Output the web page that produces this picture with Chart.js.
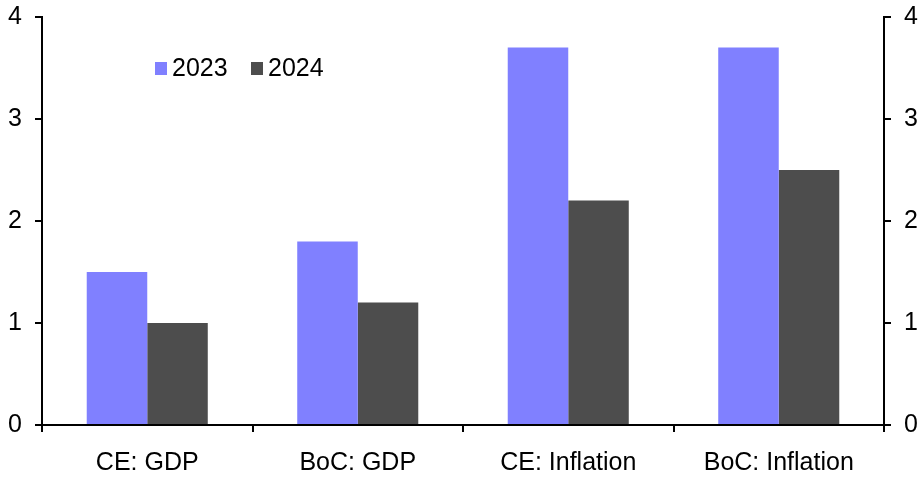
<!DOCTYPE html>
<html>
<head>
<meta charset="utf-8">
<style>
    html, body { margin: 0; padding: 0; background: #fff; }
    .container { width: 924px; height: 479px; }
</style>
</head>
<body>
<div class="container">
    <canvas id="myChart" width="924" height="479"></canvas>
</div>

<script src="https://cdn.jsdelivr.net/npm/chart.js@4"></script>
<script>
    const categories = ['CE: GDP', 'BoC: GDP', 'CE: Inflation', 'BoC: Inflation']
    const values2023 = [1.5, 1.8, 3.7, 3.7]
    const values2024 = [1.0, 1.2, 2.2, 2.5]
    const yTicks = [0, 1, 2, 3, 4]

    const font = { family: '"Liberation Sans", Arial, sans-serif', size: 25 }

    // legend drawn inside the plot, top-left
    const insideLegend = {
        id: 'insideLegend',
        afterDraw(chart) {
            const ctx = chart.ctx
            const area = chart.chartArea
            let x = area.left + 113
            const y = area.top + 51
            ctx.save()
            ctx.font = font.size + 'px ' + font.family
            ctx.textBaseline = 'middle'
            chart.data.datasets.forEach(ds => {
                ctx.fillStyle = ds.backgroundColor
                ctx.fillRect(x, y - 6, 12, 13)
                ctx.fillStyle = '#000'
                ctx.fillText(ds.label, x + 17, y + 1)
                x += 96
            })
            ctx.restore()
        }
    }

    const yAxis = (position, width) => ({
        position: position,
        min: 0,
        max: 4,
        afterBuildTicks: axis => { axis.ticks = yTicks.map(v => ({ value: v })) },
        afterFit: axis => {
            axis.width = width
            axis.paddingTop = 0
            axis.paddingBottom = 0
        },
        ticks: { color: '#000', font: font, padding: 13 },
        grid: { display: true, drawOnChartArea: false, drawTicks: true, tickLength: 7, color: '#000', lineWidth: 2 },
        border: { display: true, color: '#000', width: 2 }
    })

    var ctx = document.getElementById('myChart').getContext('2d')
    var chart = new Chart(ctx, {
        type: 'bar',
        data: {
            labels: categories,
            datasets: [{
                label: '2023',
                backgroundColor: '#8080ff',
                data: values2023
            }, {
                label: '2024',
                backgroundColor: '#4d4d4d',
                data: values2024
            }]
        },
        options: {
            responsive: false,
            maintainAspectRatio: false,
            animation: false,
            layout: { padding: { top: 17, left: 0, right: 0, bottom: 0 } },
            datasets: { bar: { barPercentage: 1, categoryPercentage: 0.575 } },
            plugins: { legend: { display: false }, tooltip: { enabled: false } },
            scales: {
                x: {
                    afterFit: axis => {
                        axis.height = 54
                        axis.paddingLeft = 0
                        axis.paddingRight = 0
                    },
                    ticks: { color: '#000', font: font, padding: 16 },
                    grid: { display: true, offset: true, drawOnChartArea: false, drawTicks: true, tickLength: 7, color: '#000', lineWidth: 2 },
                    border: { display: true, color: '#000', width: 2 }
                },
                y: yAxis('left', 42),
                y2: yAxis('right', 40)
            }
        },
        plugins: [insideLegend]
    })
</script>
</body>
</html>
